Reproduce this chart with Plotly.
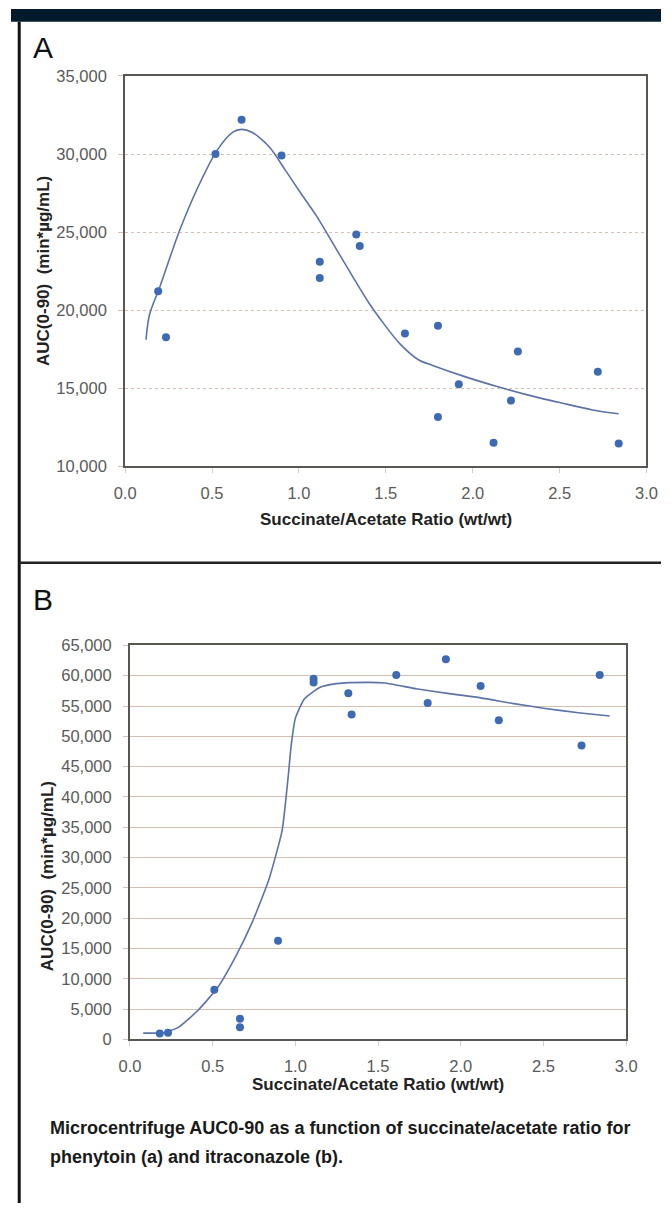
import plotly.graph_objects as go

W, H = 672, 1212

# ---- Panel A data (phenytoin) ----
a_x = [0.19, 0.235, 0.52, 0.67, 0.90, 1.12, 1.12, 1.33, 1.35, 1.61, 1.80, 1.80, 1.92, 2.12, 2.22, 2.26, 2.72, 2.84]
a_y = [21200, 18250, 30000, 32200, 29900, 23100, 22050, 24850, 24100, 18500, 19000, 13150, 15250, 11500, 14200, 17350, 16050, 11450]
a_fit_x = [0.12, 0.14, 0.20, 0.31, 0.42, 0.53, 0.62, 0.67, 0.73, 0.83, 0.92, 1.01, 1.10, 1.21, 1.40, 1.49, 1.58, 1.69, 1.77, 1.95, 2.14, 2.32, 2.51, 2.69, 2.84]
a_fit_y = [18100, 19700, 21500, 25000, 27900, 30250, 31400, 31580, 31400, 30450, 29000, 27500, 26050, 24000, 20500, 19100, 17850, 16800, 16450, 15750, 15100, 14550, 14050, 13600, 13350]

# ---- Panel B data (itraconazole) ----
b_x = [0.18, 0.23, 0.51, 0.665, 0.665, 0.895, 1.11, 1.11, 1.32, 1.34, 1.61, 1.80, 1.91, 2.12, 2.23, 2.73, 2.84]
b_y = [1000, 1100, 8200, 3400, 2000, 16300, 59500, 58900, 57100, 53600, 60100, 55500, 62700, 58300, 52650, 48500, 60100]
b_fit_x = [0.08, 0.20, 0.29, 0.41, 0.53, 0.645, 0.74, 0.84, 0.92, 0.957, 0.975, 1.00, 1.055, 1.15, 1.25, 1.44, 1.54, 1.73, 1.93, 2.12, 2.32, 2.51, 2.71, 2.90]
b_fit_y = [1050, 1100, 1950, 4770, 8560, 14000, 19400, 26400, 34500, 43500, 48600, 53000, 56200, 58100, 58700, 58900, 58800, 57850, 57050, 56350, 55400, 54600, 53900, 53350]

x_ticks = [0.0, 0.5, 1.0, 1.5, 2.0, 2.5, 3.0]
a_y_ticks = [10000, 15000, 20000, 25000, 30000, 35000]
b_y_ticks = [0, 5000, 10000, 15000, 20000, 25000, 30000, 35000, 40000, 45000, 50000, 55000, 60000, 65000]

x_title = "Succinate/Acetate Ratio (wt/wt)"
y_title = "AUC(0-90)  (min*µg/mL)"
caption1 = "Microcentrifuge AUC0-90 as a function of succinate/acetate ratio for"
caption2 = "phenytoin (a) and itraconazole (b)."

DOT = "#3d6ab3"
LINE = "#5d72a6"
GRID = "#d4bfb4"
AX = "#5a5652"
TICKF = dict(family="Liberation Sans, Arial, sans-serif", size=16.5, color="#5a5a5a")


def px_x(p):
    return p / W


def px_y(p):
    return 1 - p / H


fig = go.Figure()
fig.add_trace(go.Scatter(x=a_fit_x, y=a_fit_y, mode="lines", line=dict(color=LINE, width=1.6, shape="spline", smoothing=0.8),
                         xaxis="x", yaxis="y", hoverinfo="skip"))
fig.add_trace(go.Scatter(x=a_x, y=a_y, mode="markers", marker=dict(color=DOT, size=8), xaxis="x", yaxis="y"))
fig.add_trace(go.Scatter(x=b_fit_x, y=b_fit_y, mode="lines", line=dict(color=LINE, width=1.6, shape="spline", smoothing=0.5),
                         xaxis="x2", yaxis="y2", hoverinfo="skip"))
fig.add_trace(go.Scatter(x=b_x, y=b_y, mode="markers", marker=dict(color=DOT, size=8), xaxis="x2", yaxis="y2"))

common_x = dict(range=[0, 3], tickvals=x_ticks, tickformat=".1f", showline=True, linecolor=AX, linewidth=2,
                mirror=True, showgrid=False, zeroline=False, ticks="outside", ticklen=5, tickcolor="#cfcfcf",
                tickfont=TICKF, ticklabelstandoff=6)
common_y = dict(tickformat=",d", showline=True, linecolor=AX, linewidth=2, mirror=True, showgrid=True,
                gridcolor=GRID, gridwidth=1, zeroline=False, ticks="outside", ticklen=5, tickcolor=GRID,
                tickfont=TICKF, ticklabelstandoff=8)

fig.update_layout(
    width=W, height=H, margin=dict(l=0, r=0, t=0, b=0),
    paper_bgcolor="white", plot_bgcolor="white", showlegend=False,
    xaxis=dict(domain=[px_x(118), px_x(657)], anchor="y", **common_x),
    yaxis=dict(domain=[px_y(464), px_y(68)], anchor="x", range=[10000, 35000], tickvals=a_y_ticks,
               griddash="dot", **common_y),
    xaxis2=dict(domain=[px_x(123), px_x(636)], anchor="y2", **common_x),
    yaxis2=dict(domain=[px_y(1046), px_y(646)], anchor="x2", range=[0, 65000], tickvals=b_y_ticks, **common_y),
)

shapes = [
    dict(type="rect", xref="paper", yref="paper", x0=0, x1=1, y0=px_y(13), y1=1, fillcolor="#031a2c", line=dict(width=0)),
    dict(type="line", xref="paper", yref="paper", x0=px_x(8.5), x1=px_x(8.5), y0=0, y1=px_y(13), line=dict(color="#111", width=3)),
    dict(type="line", xref="paper", yref="paper", x0=px_x(8), x1=1, y0=px_y(562), y1=px_y(562), line=dict(color="#222", width=2.5)),
]
fig.update_layout(shapes=shapes)

BOLD = dict(family="Liberation Sans, Arial, sans-serif", size=17, color="#222")
CAP = dict(family="Liberation Sans, Arial, sans-serif", size=18, color="#1a1a1a")
ann = [
    dict(text="A", x=px_x(21), y=px_y(39), xanchor="left", yanchor="middle",
         font=dict(family="Liberation Sans, Arial, sans-serif", size=30, color="#111")),
    dict(text="B", x=px_x(21), y=px_y(599), xanchor="left", yanchor="middle",
         font=dict(family="Liberation Sans, Arial, sans-serif", size=30, color="#111")),
    dict(text="<b>%s</b>" % x_title, x=px_x(387.5), y=px_y(518), xanchor="center", yanchor="middle", font=BOLD),
    dict(text="<b>%s</b>" % x_title, x=px_x(379.5), y=px_y(1092), xanchor="center", yanchor="middle", font=BOLD),
    dict(text="<b>%s</b>" % y_title, x=px_x(33), y=px_y(266), xanchor="center", yanchor="middle", textangle=-90, font=BOLD),
    dict(text="<b>%s</b>" % y_title, x=px_x(38.5), y=px_y(880), xanchor="center", yanchor="middle", textangle=-90, font=BOLD),
    dict(text="<b>%s</b>" % caption1, x=px_x(38), y=px_y(1136), xanchor="left", yanchor="middle", font=CAP),
    dict(text="<b>%s</b>" % caption2, x=px_x(38), y=px_y(1165), xanchor="left", yanchor="middle", font=CAP),
]
for a in ann:
    a.update(xref="paper", yref="paper", showarrow=False)
fig.update_layout(annotations=ann)

fig.write_html("out.html", config={"displayModeBar": False},
               post_script="document.body.style.margin='0';document.body.style.padding='0';")
